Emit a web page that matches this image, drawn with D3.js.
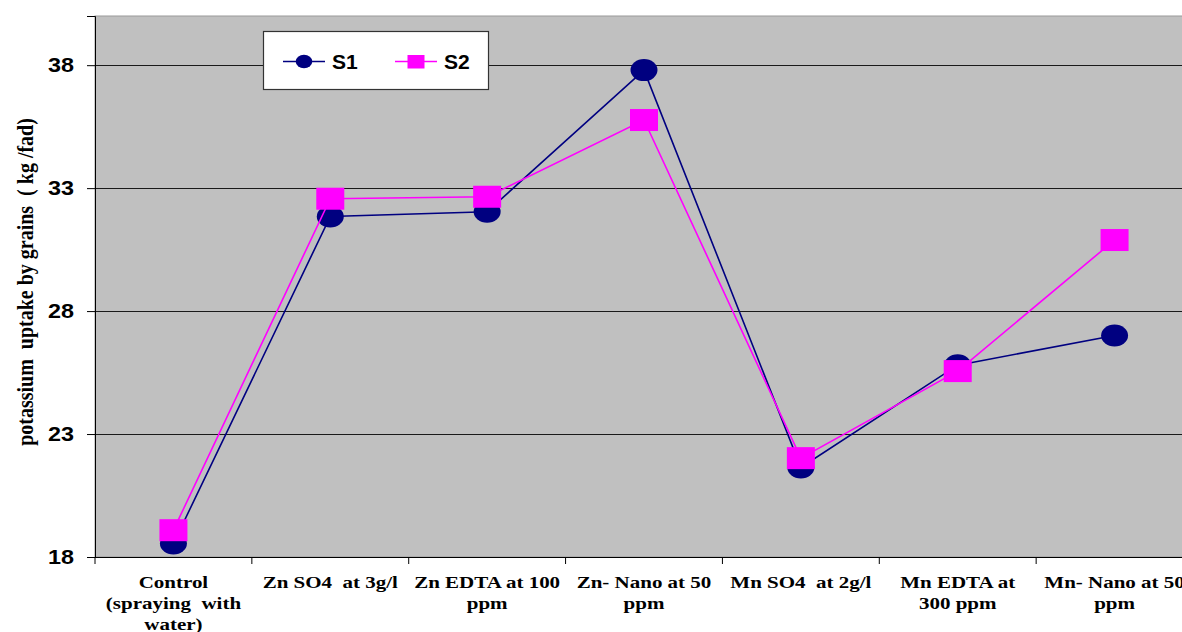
<!DOCTYPE html>
<html>
<head>
<meta charset="utf-8">
<script src="https://cdn.jsdelivr.net/npm/d3@7"></script>
<style>
  html, body { margin: 0; padding: 0; background: #fff; }
  svg { display: block; }
  .cat { font-family: "Liberation Serif", "Times New Roman", serif; font-weight: bold; font-size: 17.5px; white-space: pre; }
</style>
</head>
<body>
<div id="chart"></div>
<script>
// Treatments along the x axis (line breaks mark wrapped label lines)
const categories = [
  "Control\n(spraying  with\nwater)",
  "Zn SO4  at 3g/l",
  "Zn EDTA at 100\nppm",
  "Zn- Nano at 50\nppm",
  "Mn SO4  at 2g/l",
  "Mn EDTA at\n300 ppm",
  "Mn- Nano at 50\nppm"
];
const seriesNames = ["S1", "S2"];
const s1Values = [18.55, 31.85, 32.04, 37.8, 21.64, 25.8, 27.01];
const s2Values = [19.09, 32.57, 32.65, 35.77, 22.02, 25.56, 30.89];
const yTicks = [18, 23, 28, 33, 38];
const yLabel = "potassium  uptake by grains  ( kg /fad)";

const W = 1182, H = 632;
const plotLeft = 95, plotTop = 16, plotBottom = 557, plotRight = 1193;
const stretch = 1.2; // wide lettering used throughout the chart

const svg = d3.select("#chart").append("svg")
  .attr("width", W).attr("height", H);

const x = d3.scaleBand().domain(d3.range(categories.length)).range([plotLeft, plotRight]);
const cx = i => x(i) + x.bandwidth() / 2;
const y = d3.scaleLinear().domain([18, 40]).range([plotBottom, plotTop]);

// plot background
svg.append("rect")
  .attr("x", plotLeft).attr("y", plotTop)
  .attr("width", plotRight - plotLeft).attr("height", plotBottom - plotTop)
  .attr("fill", "#c0c0c0")
  .attr("stroke", "#999").attr("stroke-width", 1);

// horizontal gridlines
svg.append("g").selectAll("line")
  .data(yTicks.filter(t => t > 18))
  .join("line")
  .attr("x1", plotLeft).attr("x2", plotRight)
  .attr("y1", d => Math.round(y(d)) + 0.5).attr("y2", d => Math.round(y(d)) + 0.5)
  .attr("stroke", "#1a1a1a").attr("stroke-width", 1);

// y axis
const yAxis = svg.append("g")
  .attr("transform", `translate(${plotLeft},0)`)
  .call(d3.axisLeft(y).tickValues(yTicks).tickSize(8).tickFormat(d3.format("d")));
yAxis.select(".domain").attr("stroke", "#000");
yAxis.selectAll(".tick line").attr("stroke", "#000");
yAxis.selectAll("text")
  .attr("x", 0)
  .attr("transform", "translate(-21,0) scale(1.17,1)")
  .attr("font-family", "Liberation Sans, Arial, sans-serif")
  .attr("font-weight", "bold").attr("font-size", 20).attr("fill", "#000");

// x axis line with tick marks at category boundaries
svg.append("line")
  .attr("x1", plotLeft).attr("x2", plotRight)
  .attr("y1", plotBottom + 0.5).attr("y2", plotBottom + 0.5)
  .attr("stroke", "#000").attr("stroke-width", 1.2);
svg.append("g").selectAll("line")
  .data(d3.range(categories.length + 1))
  .join("line")
  .attr("x1", i => (i < categories.length ? x(i) : plotRight)).attr("x2", i => (i < categories.length ? x(i) : plotRight))
  .attr("y1", plotBottom).attr("y2", plotBottom + 7)
  .attr("stroke", "#000").attr("stroke-width", 1);

// category labels
const catG = svg.append("g");
categories.forEach((c, i) => {
  const t = catG.append("text").attr("class", "cat")
    .attr("text-anchor", "middle")
    .attr("transform", `translate(${cx(i)},588) scale(${stretch},1)`);
  c.split("\n").forEach((line, k) => {
    t.append("tspan").attr("x", 0).attr("dy", k === 0 ? 0 : 20.8).text(line);
  });
});

// y axis title
svg.append("text")
  .attr("transform", `translate(33,282) rotate(-90) scale(1,1.15)`)
  .attr("text-anchor", "middle")
  .attr("font-family", "Liberation Serif, Times New Roman, serif")
  .attr("font-weight", "bold").attr("font-size", 20)
  .style("white-space", "pre")
  .text(yLabel);

// series lines and markers
const line = d3.line().x((d, i) => cx(i)).y(d => y(d));

svg.append("path").datum(s1Values)
  .attr("d", line).attr("fill", "none")
  .attr("stroke", "#000080").attr("stroke-width", 1.6);
svg.append("g").selectAll("ellipse")
  .data(s1Values).join("ellipse")
  .attr("cx", (d, i) => cx(i)).attr("cy", d => y(d))
  .attr("rx", 13.5).attr("ry", 11)
  .attr("fill", "#000080");

svg.append("path").datum(s2Values)
  .attr("d", line).attr("fill", "none")
  .attr("stroke", "#ff00ff").attr("stroke-width", 1.6);
svg.append("g").selectAll("rect")
  .data(s2Values).join("rect")
  .attr("x", (d, i) => cx(i) - 14).attr("y", d => y(d) - 11)
  .attr("width", 28).attr("height", 22)
  .attr("fill", "#ff00ff");

// legend
const lg = svg.append("g");
lg.append("rect")
  .attr("x", 263.5).attr("y", 31.5).attr("width", 225).attr("height", 58)
  .attr("fill", "#fff").attr("stroke", "#333").attr("stroke-width", 1.2);
const legendItems = [
  { name: seriesNames[0], color: "#000080", x0: 283, shape: "circle" },
  { name: seriesNames[1], color: "#ff00ff", x0: 395, shape: "square" }
];
legendItems.forEach(it => {
  lg.append("line").attr("x1", it.x0).attr("x2", it.x0 + 42)
    .attr("y1", 61.5).attr("y2", 61.5).attr("stroke", it.color).attr("stroke-width", 1.5);
  if (it.shape === "circle") {
    lg.append("ellipse").attr("cx", it.x0 + 21).attr("cy", 61.5)
      .attr("rx", 8.3).attr("ry", 6.7).attr("fill", it.color);
  } else {
    lg.append("rect").attr("x", it.x0 + 12.5).attr("y", 55)
      .attr("width", 17).attr("height", 13.5).attr("fill", it.color);
  }
  lg.append("text")
    .attr("transform", `translate(${it.x0 + 49},68.5) scale(1.08,1)`)
    .attr("font-family", "Liberation Sans, Arial, sans-serif")
    .attr("font-weight", "bold").attr("font-size", 19.5)
    .text(it.name);
});
</script>
</body>
</html>
